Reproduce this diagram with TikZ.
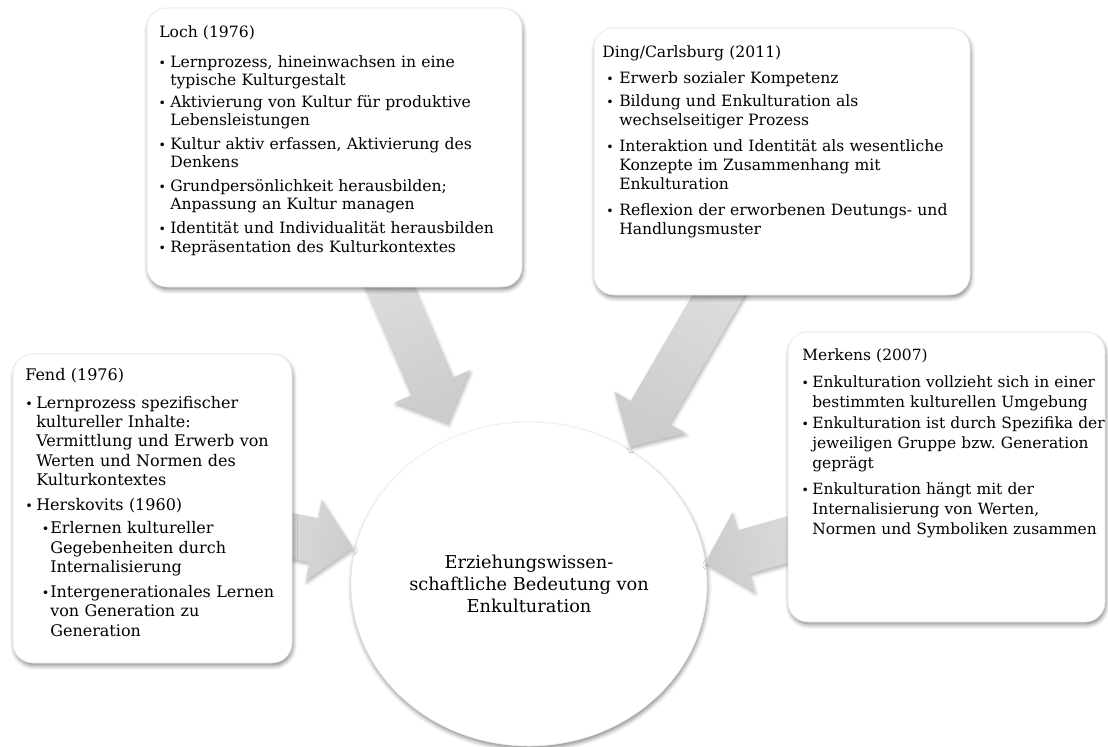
\documentclass[tikz,border=0pt]{standalone}
\usepackage{fontspec}
\setmainfont{DejaVu Serif}
\usetikzlibrary{calc,shapes.geometric,shadows.blur}
\frenchspacing

% line break inside a bullet paragraph (keeps the hanging indent)
\newcommand{\nl}{\hfil\break}
% bullet paragraph: #1 space before, #2 bullet offset, #3 text indent, #4 text
\newcommand{\Bul}[4]{\par\vspace{#1}\noindent\hangindent=#3\hangafter=1%
  \makebox[#3][l]{\hspace*{#2}\scalebox{0.8}{\textbullet}}\ignorespaces#4}

% broad shaded block arrow: #1 start, #2 tip, #3 shading angle, #4 prefix
\newcommand{\blockarrow}[4]{%
  \coordinate (#4-b) at ($(#2)!30pt!(#1)$);
  \path[blockarrow, shading angle=#3]
    ($(#1)!16.9pt!90:(#2)$) -- ($(#4-b)!16.9pt!90:(#2)$)
    -- ($(#4-b)!30.75pt!90:(#2)$) -- (#2)
    -- ($(#4-b)!30.75pt!-90:(#2)$) -- ($(#4-b)!16.9pt!-90:(#2)$)
    -- ($(#1)!16.9pt!-90:(#2)$) -- cycle;}

\tikzset{
  box/.style={rectangle, rounded corners=15pt, fill=white, draw=gray!18,
    line width=0.4pt, inner sep=0pt,
    blur shadow={shadow xshift=0.8pt, shadow yshift=-2.2pt,
      shadow blur radius=3pt, shadow opacity=45}},
  hub/.style={ellipse, fill=white, draw=gray!15, line width=0.4pt, inner sep=0pt,
    blur shadow={shadow xshift=0.6pt, shadow yshift=-2.2pt,
      shadow blur radius=3pt, shadow opacity=45}},
  blockarrow/.style={top color=gray!25, bottom color=gray!40,
    blur shadow={shadow xshift=0.8pt, shadow yshift=-1.8pt,
      shadow blur radius=2.5pt, shadow opacity=30}},
  txt/.style={anchor=base west, inner sep=0pt, text width=330pt, align=left,
    text=black}
}

\begin{document}
\begin{tikzpicture}[x=0.75pt, y=-0.75pt]
  \useasboundingbox (0,0) rectangle (1108,747);

  % central ellipse
  \node[hub, minimum width=267pt, minimum height=243pt, align=center,
        font=\fontsize{13.3}{16.5}\selectfont] (hub) at (529,584)
        {Erziehungswissen-\\schaftliche Bedeutung von\\Enkulturation};

  % arrow start points (inside the boxes) and tips
  \coordinate (loch-s) at (374,250);  \coordinate (loch-t) at (448,423);
  \coordinate (ding-s) at (739,260);  \coordinate (ding-t) at (630,447);
  \coordinate (fend-s) at (262,530);  \coordinate (fend-t) at (353,548);
  \coordinate (merk-s) at (825,529);  \coordinate (merk-t) at (705,563);

  \blockarrow{loch-s}{loch-t}{23.1}{la}
  \blockarrow{ding-s}{ding-t}{-30.2}{da}
  \blockarrow{fend-s}{fend-t}{78.9}{fa}
  \blockarrow{merk-s}{merk-t}{-74.2}{ma}

  % outer boxes
  \node[box, minimum width=281.25pt, minimum height=209.25pt] (loch) at (334.5,147.5) {};
  \node[box, minimum width=282pt, minimum height=200.25pt] (ding) at (782,161.5) {};
  \node[box, minimum width=209.25pt, minimum height=231.75pt] (fend) at (152.5,508.5) {};
  \node[box, minimum width=237.75pt, minimum height=217.5pt] (merkens) at (946.5,477) {};

  % box texts
  \node[txt, font=\fontsize{11.7}{13.5}\selectfont] (lochtxt) at (159,37)
    {Loch (1976)%
     \Bul{9pt}{-0.5pt}{8.25pt}{Lernprozess, hineinwachsen in eine\nl typische Kulturgestalt}%
     \Bul{3.5pt}{-0.5pt}{8.25pt}{Aktivierung von Kultur für produktive\nl Lebensleistungen}%
     \Bul{4.5pt}{-0.5pt}{8.25pt}{Kultur aktiv erfassen, Aktivierung des\nl Denkens}%
     \Bul{4.5pt}{-0.5pt}{8.25pt}{Grundpersönlichkeit herausbilden;\nl Anpassung an Kultur managen}%
     \Bul{4.5pt}{-0.5pt}{8.25pt}{Identität und Individualität herausbilden}%
     \Bul{0.5pt}{-0.5pt}{8.25pt}{Repräsentation des Kulturkontextes}\par};

  \node[txt, font=\fontsize{11.7}{14.25}\selectfont] (dingtxt) at (602,57)
    {Ding/Carlsburg (2011)%
     \Bul{5.25pt}{3pt}{12.75pt}{Erwerb sozialer Kompetenz}%
     \Bul{3pt}{3pt}{12.75pt}{Bildung und Enkulturation als\nl wechselseitiger Prozess}%
     \Bul{5.5pt}{3pt}{12.75pt}{Interaktion und Identität als wesentliche\nl Konzepte im Zusammenhang mit\nl Enkulturation}%
     \Bul{5.5pt}{3pt}{12.75pt}{Reflexion der erworbenen Deutungs- und\nl Handlungsmuster}\par};

  \node[txt, font=\fontsize{12}{14.6}\selectfont] (fendtxt) at (25,380)
    {Fend (1976)%
     \Bul{6.4pt}{0pt}{8.25pt}{Lernprozess spezifischer\nl kultureller Inhalte:\nl Vermittlung und Erwerb von\nl Werten und Normen des\nl Kulturkontextes}%
     \Bul{4pt}{0pt}{8.25pt}{Herskovits (1960)}%
     \Bul{2.6pt}{12.5pt}{18.75pt}{Erlernen kultureller\nl Gegebenheiten durch\nl Internalisierung}%
     \Bul{4pt}{12.5pt}{18.75pt}{Intergenerationales Lernen\nl von Generation zu\nl Generation}\par};

  \node[txt, font=\fontsize{11.6}{15}\selectfont] (merktxt) at (802,360)
    {Merkens (2007)%
     \Bul{5.25pt}{-0.5pt}{7.5pt}{Enkulturation vollzieht sich in einer\nl bestimmten kulturellen Umgebung}%
     \Bul{0.75pt}{-0.5pt}{7.5pt}{Enkulturation ist durch Spezifika der\nl jeweiligen Gruppe bzw. Generation\nl geprägt}%
     \Bul{4.5pt}{-0.5pt}{7.5pt}{Enkulturation hängt mit der\nl Internalisierung von Werten,\nl Normen und Symboliken zusammen}\par};
\end{tikzpicture}
\end{document}
